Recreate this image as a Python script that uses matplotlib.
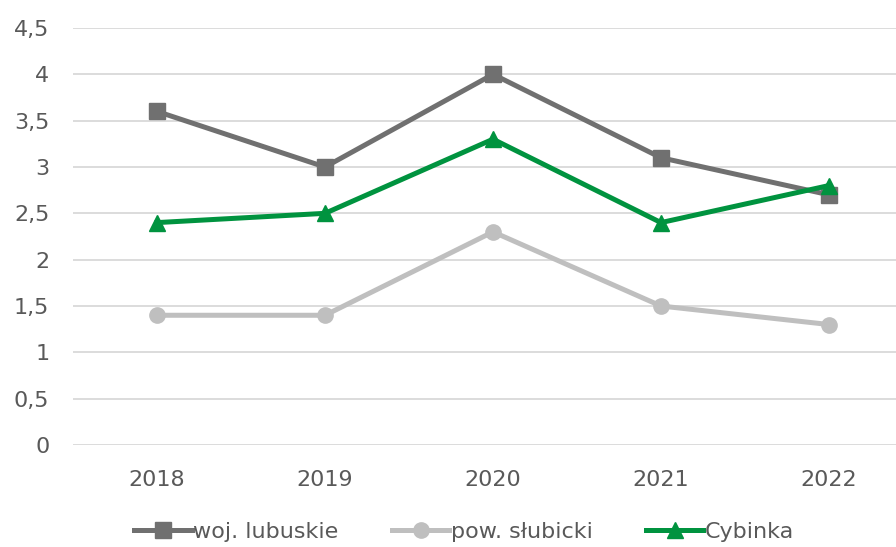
import matplotlib.pyplot as plt
from matplotlib.ticker import FuncFormatter

# Data
years = ['2018', '2019', '2020', '2021', '2022']
woj_lubuskie = [3.6, 3.0, 4.0, 3.1, 2.7]
pow_slubicki = [1.4, 1.4, 2.3, 1.5, 1.3]
cybinka = [2.4, 2.5, 3.3, 2.4, 2.8]

plt.rcParams['font.family'] = ['DejaVu Sans']

fig = plt.figure(figsize=(8.96, 5.47), dpi=100)
# axes run past the right edge, as in the (cropped) original
ax = fig.add_axes([73 / 896, 102 / 547, 840 / 896, 417 / 547])

x = range(len(years))
ax.plot(x, woj_lubuskie, color='#707070', lw=3.6, marker='s', ms=11,
        label='woj. lubuskie', zorder=3)
ax.plot(x, pow_slubicki, color='#bfbfbf', lw=3.6, marker='o', ms=11,
        label='pow. słubicki', zorder=3)
ax.plot(x, cybinka, color='#00933f', lw=3.6, marker='^', ms=11,
        label='Cybinka', zorder=4)

ax.set_xlim(-0.5, 4.5)
ax.set_ylim(0, 4.5)
ax.set_xticks(list(x))
ax.set_xticklabels(years)
ax.set_yticks([i * 0.5 for i in range(10)])
ax.yaxis.set_major_formatter(FuncFormatter(lambda v, p: f'{v:g}'.replace('.', ',')))

ax.grid(axis='y', color='#d9d9d9', lw=1.3)
ax.set_axisbelow(True)
for s in ax.spines.values():
    s.set_visible(False)
ax.tick_params(length=0, labelsize=16, labelcolor='#595959')
ax.tick_params(axis='y', pad=17)
ax.tick_params(axis='x', pad=18)

fig.legend(loc='center', bbox_to_anchor=(464 / 896, 1 - 532 / 547), ncol=3,
           frameon=False, fontsize=16, labelcolor='#595959', handlelength=2.6,
           handletextpad=0.05, columnspacing=2.4)

plt.savefig('out.png', dpi=100)
